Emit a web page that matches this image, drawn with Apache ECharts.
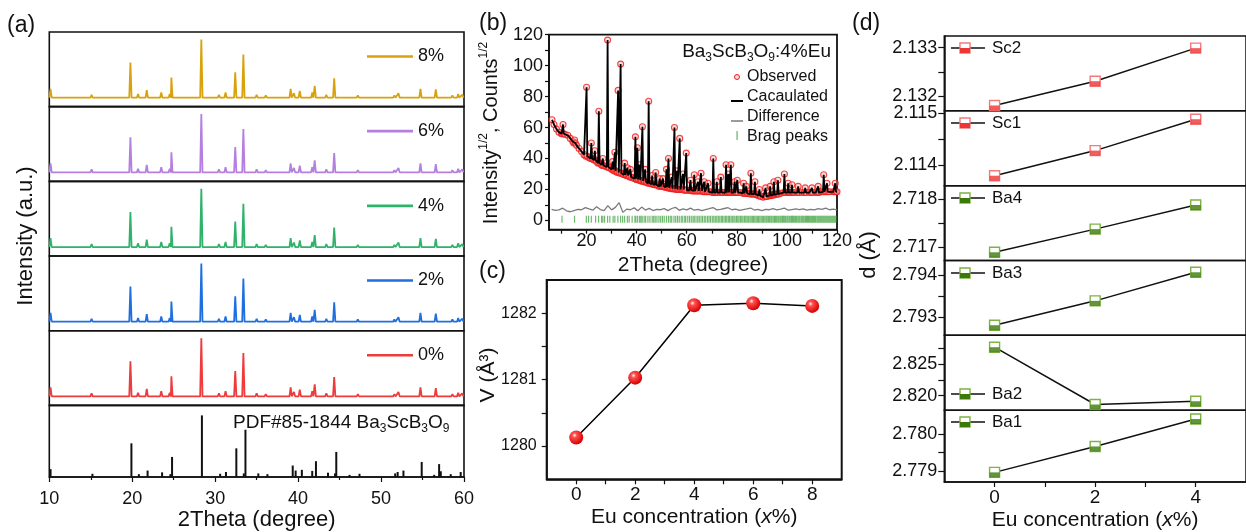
<!DOCTYPE html>
<html>
<head>
<meta charset="utf-8">
<script src="https://cdn.jsdelivr.net/npm/echarts@6/dist/echarts.min.js"></script>
<style>
html, body { margin: 0; padding: 0; background: #fff; }
#chart { width: 1246px; height: 532px; }
</style>
</head>
<body>
<div id="chart"></div>
<script>
const FONT = 'Liberation Sans, Arial, sans-serif'

// (a) XRD patterns, heights in % of one strip
const xrdLabels = ['8%', '6%', '4%', '2%', '0%']
const xrdColors = ['#d9a20d', '#b57fe0', '#2fb36b', '#1e6fe0', '#ee3b3b']
const xrdBaseline = 12
const samplePeaks = [
  [10.15, 24], [15.1, 16], [19.78, 59], [20.7, 17], [21.75, 22], [23.5, 19], [24.52, 17], [24.72, 39],
  [28.33, 90], [30.45, 16], [31.25, 19], [32.42, 46], [33.4, 70], [35.0, 16], [36.1, 15], [39.1, 24],
  [39.5, 18], [40.2, 21], [41.7, 19], [42.0, 28], [43.4, 16], [44.35, 38], [46.0, 14], [47.2, 15],
  [51.6, 15], [52.1, 18], [54.75, 24], [56.6, 23], [58.6, 15], [59.3, 17], [59.8, 16]
]
const pdfSticks = [
  [10.15, 11], [15.2, 4.5], [19.9, 47], [20.8, 4], [21.85, 9], [23.6, 6.5], [24.6, 4], [24.8, 28],
  [28.4, 86], [30.6, 4.5], [31.3, 7], [32.55, 40], [33.45, 5], [33.65, 66], [35.2, 5], [36.3, 4],
  [39.35, 16], [39.7, 9], [40.45, 10], [41.7, 8.5], [42.15, 22], [43.6, 6], [44.45, 5], [44.6, 35],
  [46.2, 3], [47.4, 4.5], [51.7, 5], [52.0, 7], [52.7, 9], [54.9, 21], [56.4, 3], [57.0, 18],
  [57.2, 8], [58.4, 4], [59.6, 7]
]

// (b) Rietveld refinement
const rvBackground = [
  [6.2, 65], [7, 62], [8, 59], [9, 57], [10, 56], [11.5, 55.5], [12.5, 55], [13.5, 53], [14.5, 51],
  [16, 48.5], [17, 46.5], [18, 44.5], [19, 42.5], [21, 40.5], [22.5, 39.5], [24, 38], [26, 36],
  [27.5, 35], [29, 34], [30, 33], [32, 31.5], [34.5, 30], [36, 29], [37, 28.5], [38.5, 27.5],
  [40, 26.5], [41.7, 25.5], [43, 25], [44, 24.5], [45.5, 24], [47, 23], [48.5, 22.5], [50, 22],
  [51.2, 21.5], [53.3, 21], [54.5, 20.5], [56.5, 20], [58, 20], [59, 19.5], [61, 19.5], [62.2, 19],
  [64, 19], [66.5, 19], [68, 18.5], [69.5, 18.5], [71.3, 18], [74.5, 18], [78.5, 18], [81.5, 18],
  [84.5, 17.5], [86.5, 17], [88, 16.5], [89.5, 15.5], [90.5, 15], [92, 15.5], [94, 16.5], [95.5, 17],
  [97.5, 17.5], [101, 18], [103, 18], [106, 18], [109, 18], [111.5, 18], [113.5, 18.5], [117, 18.5],
  [118.5, 18.5], [120, 18.5]
]
// [2theta, base, top]
const rvPeaks = [
  [10.6, 56, 62], [15.2, 50, 52], [20.0, 41.5, 86], [21.9, 40, 50], [23.3, 39, 45], [24.9, 37, 70.5],
  [26.5, 35.5, 40], [28.4, 34.5, 116.5], [30.4, 33, 38], [31.3, 32, 44], [32.6, 31, 84], [33.6, 30.5, 101],
  [35.2, 29.5, 37], [36.3, 29, 34], [37.5, 28, 33], [39.5, 27, 54], [40.3, 26.5, 47], [41.2, 26, 36],
  [42.3, 25.5, 60.5], [43.4, 25, 33], [44.8, 24, 77], [46.2, 23.5, 29], [47.6, 23, 31], [49.2, 22, 27],
  [50.5, 22, 27], [51.9, 21.5, 33], [52.7, 21, 40], [54.0, 20.5, 28], [55.1, 20.5, 60], [56.0, 20, 32],
  [57.2, 20, 53], [58.5, 20, 30], [59.8, 19.5, 43.5], [61.5, 19.5, 26], [63.0, 19, 29.5], [64.5, 19, 25],
  [65.7, 19, 30.5], [67.0, 18.5, 25], [68.5, 18.5, 24], [70.6, 18, 40], [72.0, 18, 25], [73.6, 18, 28],
  [75.7, 18, 36], [76.6, 18, 30], [77.6, 18, 36], [79.1, 18, 25], [80.2, 18, 26], [82.7, 17.5, 24],
  [83.8, 17.5, 22], [85.6, 17, 30.5], [87.2, 17, 25], [89.0, 16, 20], [91.5, 15.5, 21], [93.3, 16, 22],
  [94.8, 16.5, 25], [96.4, 17, 26], [99.0, 18, 30], [100.5, 18, 24], [102.0, 18, 23], [104.5, 18, 22],
  [107.3, 18, 21], [110.0, 18, 21], [112.5, 18, 22], [114.7, 18.5, 29.5], [116.0, 18.5, 24], [119.3, 18.5, 24]
]
const diffStart = 6
const diffStep = 1.5
const rvDiff = [
  7.2, 6.5, 6.8, 7.9, 6.2, 5.6, 6.4, 7.1, 6.9, 8.3, 7.4, 6.6, 8.9, 7.0, 6.3, 9.6, 6.8, 8.4, 11.5, 5.2,
  7.3, 6.9, 8.1, 6.2, 8.6, 6.7, 7.8, 6.4, 7.2, 6.9, 7.6, 6.3, 7.7, 8.5, 6.5, 7.4, 6.8, 7.9, 6.6, 7.2,
  6.3, 7.0, 7.6, 8.3, 6.8, 7.1, 7.7, 8.2, 6.9, 7.3, 6.5, 7.0, 7.4, 8.0, 6.7, 7.1, 6.4, 7.2, 6.9, 7.6,
  6.8, 7.3, 7.9, 6.6, 7.0, 7.4, 6.9, 7.5, 6.7, 7.2, 6.8, 7.6, 7.1, 8.0, 6.9, 7.3, 6.8
]
const braggPos = [
  10.2, 15.2, 19.9, 20.8, 21.9, 23.6, 24.8, 26.0, 26.5, 27.2, 28.4, 29.3, 30.6, 31.3, 32.5, 33.6, 34.4,
  35.2, 36.3, 37.0, 38.2, 39.3, 39.7, 40.4, 41.2, 41.7, 42.2, 43.0, 43.6, 44.5, 45.3, 46.2, 46.8, 47.4,
  48.1, 48.9, 49.6, 50.3, 51.0, 51.9, 52.7, 53.4, 54.0, 54.9, 55.6, 56.3, 57.0, 57.8, 58.4, 59.2, 59.6,
  60.4, 61.1, 61.8, 62.5, 63.0, 63.7, 64.4, 65.0, 65.7, 66.3, 67.0, 67.6, 68.3, 68.9, 69.5, 70.2, 70.8,
  71.4, 72.0, 72.6, 73.2, 73.8, 74.3, 74.9, 75.5, 76.0, 76.6, 77.1, 77.7, 78.2, 78.8, 79.3, 79.9, 80.4,
  80.9, 81.5, 82.0, 82.5, 83.1, 83.6, 84.1, 84.6, 85.2, 85.7, 86.2, 86.7, 87.2, 87.7, 88.2, 88.7, 89.2,
  89.7, 90.2, 90.7, 91.2, 91.7, 92.1, 92.6, 93.1, 93.6, 94.0, 94.5, 95.0, 95.4, 95.9, 96.4, 96.8, 97.3,
  97.7, 98.2, 98.6, 99.1, 99.5, 100.0, 100.4, 100.9, 101.3, 101.8, 102.2, 102.6, 103.1, 103.5, 103.9,
  104.4, 104.8, 105.2, 105.7, 106.1, 106.5, 106.9, 107.4, 107.8, 108.2, 108.6, 109.0, 109.5, 109.9,
  110.3, 110.7, 111.1, 111.5, 112.0, 112.4, 112.8, 113.2, 113.6, 114.0, 114.4, 114.8, 115.2, 115.6,
  116.0, 116.4, 116.8, 117.2, 117.6, 118.0, 118.4, 118.8, 119.2, 119.6
]

// (c) cell volume
const euConc = [0, 2, 4, 6, 8]
const cellVolume = [1280.13, 1281.03, 1282.12, 1282.15, 1282.11]

// (d) bond lengths
const bondConc = [0, 2, 4]
const bondNames = ['Sc2', 'Sc1', 'Ba4', 'Ba3', 'Ba2', 'Ba1']
const bondValues = [
  [2.13181, 2.13231, 2.13299],
  [2.11380, 2.11428, 2.11488],
  [2.71690, 2.71738, 2.71788],
  [2.79280, 2.79338, 2.79406],
  [2.82774, 2.81858, 2.81910],
  [2.77896, 2.77966, 2.78040]
]
const bondRanges = [
  [2.1317, 2.13324], [2.11361, 2.11504], [2.71673, 2.71828],
  [2.79256, 2.79434], [2.81768, 2.82964], [2.77870, 2.78064]
]
const bondTickLabels = [
  [2.132, 2.133], [2.114, 2.115], [2.717, 2.718], [2.793, 2.794], [2.820, 2.825], [2.779, 2.780]
]
const bondMinorTicks = [[2.1325], [2.1145], [2.7175], [2.7935], [2.8225, 2.8275], [2.7795]]

const chart = echarts.init(document.getElementById('chart'))

const axisLine = { show: true, onZero: false, lineStyle: { color: '#111', width: 1.5 } }
const tickStyle = { color: '#111', width: 1.2 }
const gridBox = { show: true, borderColor: '#111', borderWidth: 1.6, backgroundColor: 'transparent' }

const grid = []
const xAxis = []
const yAxis = []
const series = []
const legend = []
const graphic = []

// ---------- (a) ----------
const stripH = 74.67
for (let i = 0; i < 6; i++) {
  const last = i === 5
  grid.push({ left: 49.3, width: 414.7, top: 32 + i * stripH, height: stripH, ...gridBox })
  xAxis.push({
    gridIndex: grid.length - 1, type: 'value', min: 10, max: 60, interval: 10,
    show: last, axisLine,
    axisTick: { show: true, length: 5, lineStyle: tickStyle },
    minorTick: { show: true, splitNumber: 2, length: 3, lineStyle: tickStyle },
    axisLabel: { fontSize: 18, color: '#111', margin: 13, fontFamily: FONT },
    splitLine: { show: false },
    name: last ? '2Theta (degree)' : '', nameLocation: 'middle', nameGap: 32,
    nameTextStyle: { fontSize: 22, color: '#111', fontFamily: FONT }
  })
  yAxis.push({ gridIndex: grid.length - 1, type: 'value', min: 0, max: 100, show: false, splitLine: { show: false } })
  if (!last) {
    const pts = [[10, xrdBaseline]]
    samplePeaks.forEach(([p, h]) => { pts.push([p - 0.14, xrdBaseline], [p, h], [p + 0.14, xrdBaseline]) })
    pts.push([60, xrdBaseline])
    series.push({
      name: xrdLabels[i], type: 'line', xAxisIndex: i, yAxisIndex: i, data: pts,
      symbol: 'none', lineStyle: { color: xrdColors[i], width: 1.8 }, itemStyle: { color: xrdColors[i] }
    })
    legend.push({
      data: [{ name: xrdLabels[i], icon: 'rect' }], left: 367, top: 32 + i * stripH + 15.5, padding: 0,
      itemWidth: 46, itemHeight: 2.6, itemGap: 0, selectedMode: false,
      textStyle: { fontSize: 18, color: '#111', fontFamily: FONT }
    })
  } else {
    series.push({
      name: 'PDF', type: 'bar', xAxisIndex: i, yAxisIndex: i, data: pdfSticks,
      barWidth: 2, itemStyle: { color: '#111' }
    })
  }
}

// ---------- (b) ----------
const gB = grid.length
grid.push({ left: 549, width: 288, top: 34.7, height: 195, ...gridBox, borderWidth: 1.8 })
xAxis.push({
  gridIndex: gB, type: 'value', min: 5, max: 120, axisLine,
  axisTick: { show: true, length: 4, lineStyle: tickStyle, customValues: [10, 20, 30, 40, 50, 60, 70, 80, 90, 100, 110, 120] },
  axisLabel: { fontSize: 18, color: '#111', margin: 2, fontFamily: FONT, customValues: [20, 40, 60, 80, 100, 120] },
  splitLine: { show: false },
  name: '2Theta (degree)', nameLocation: 'middle', nameGap: 25,
  nameTextStyle: { fontSize: 21, color: '#111', fontFamily: FONT }
})
yAxis.push({
  gridIndex: gB, type: 'value', min: -6, max: 120, axisLine,
  axisTick: { show: true, length: 4, lineStyle: tickStyle, customValues: [0, 10, 20, 30, 40, 50, 60, 70, 80, 90, 100, 110, 120] },
  axisLabel: { fontSize: 18, color: '#111', margin: 6, fontFamily: FONT, customValues: [0, 20, 40, 60, 80, 100, 120] },
  splitLine: { show: false }
})
const calcCurve = rvBackground
  .concat(...rvPeaks.map(([p, b, t]) => [[p - 0.3, b], [p, t], [p + 0.3, b]]))
  .sort((a, b) => a[0] - b[0])
series.push({
  name: 'Observed', type: 'scatter', xAxisIndex: gB, yAxisIndex: gB, data: calcCurve, z: 2,
  symbol: 'circle', symbolSize: 6,
  itemStyle: { color: 'rgba(255,170,170,0.5)', borderColor: '#ee1c1c', borderWidth: 1.1 }
})
series.push({
  name: 'Cacaulated', type: 'line', xAxisIndex: gB, yAxisIndex: gB, data: calcCurve, z: 3,
  symbol: 'none', lineStyle: { color: '#000', width: 1.8 }
})
series.push({
  name: 'Difference', type: 'line', xAxisIndex: gB, yAxisIndex: gB, z: 3,
  data: rvDiff.map((v, i) => [diffStart + i * diffStep, v]),
  symbol: 'none', lineStyle: { color: '#7a7a7a', width: 1.3 }
})
series.push({
  name: 'Brag peaks', type: 'scatter', xAxisIndex: gB, yAxisIndex: gB, z: 3,
  data: braggPos.map(p => [p, 0.8]),
  symbol: 'rect', symbolSize: [1.2, 7], itemStyle: { color: '#3fa13f', opacity: 0.75 }
})

// ---------- (c) ----------
const gC = grid.length
grid.push({ left: 546.7, width: 295, top: 280, height: 199.3, ...gridBox, borderWidth: 2 })
xAxis.push({
  gridIndex: gC, type: 'value', min: -1, max: 9, axisLine,
  axisTick: { show: true, length: 5, lineStyle: tickStyle, customValues: [0, 1, 2, 3, 4, 5, 6, 7, 8] },
  axisLabel: { fontSize: 19, color: '#111', margin: 6, fontFamily: FONT, customValues: euConc },
  splitLine: { show: false },
  name: 'Eu concentration ({i|x}%)', nameLocation: 'middle', nameGap: 27,
  nameTextStyle: { fontSize: 21, color: '#111', fontFamily: FONT, rich: { i: { fontSize: 21, fontStyle: 'italic', fontFamily: FONT } } }
})
yAxis.push({
  gridIndex: gC, type: 'value', min: 1279.5, max: 1282.5, axisLine,
  axisTick: { show: true, length: 5, lineStyle: tickStyle, customValues: [1280, 1280.5, 1281, 1281.5, 1282] },
  axisLabel: {
    fontSize: 16, color: '#111', margin: 10, fontFamily: FONT, customValues: [1280, 1281, 1282],
    formatter: v => String(v)
  },
  splitLine: { show: false }
})
series.push({
  name: 'V', type: 'line', xAxisIndex: gC, yAxisIndex: gC,
  data: euConc.map((x, i) => [x, cellVolume[i]]),
  symbol: 'circle', symbolSize: 14,
  lineStyle: { color: '#000', width: 1.5 },
  itemStyle: {
    color: {
      type: 'radial', x: 0.38, y: 0.35, r: 0.65,
      colorStops: [{ offset: 0, color: '#ffffff' }, { offset: 0.25, color: '#ff5050' }, { offset: 1, color: '#d80000' }]
    }
  }
})

// ---------- (d) ----------
const dStrip = 74.83
const dRed = { border: '#f37b7b', fill: '#ee3535' }
const dGreen = { border: '#7cb342', fill: '#3b7a0a' }
const dLegendY = [48, 123, 198, 273, 394, 422]
for (let j = 0; j < 6; j++) {
  const last = j === 5
  const g = grid.length
  const col = j < 2 ? dRed : dGreen
  grid.push({ left: 944.3, width: 312, top: 36 + j * dStrip, height: dStrip, ...gridBox, borderWidth: 1.5 })
  xAxis.push({
    gridIndex: g, type: 'value', min: -1, max: 5, show: last, axisLine,
    axisTick: { show: true, length: 5, lineStyle: tickStyle, customValues: [0, 1, 2, 3, 4] },
    axisLabel: { fontSize: 19, color: '#111', margin: 6, fontFamily: FONT, customValues: bondConc },
    splitLine: { show: false },
    name: last ? 'Eu concentration ({i|x}%)' : '', nameLocation: 'middle', nameGap: 28,
    nameTextStyle: { fontSize: 21, color: '#111', fontFamily: FONT, rich: { i: { fontSize: 21, fontStyle: 'italic', fontFamily: FONT } } }
  })
  yAxis.push({
    gridIndex: g, type: 'value', min: bondRanges[j][0], max: bondRanges[j][1], axisLine,
    axisTick: { show: true, length: 6, lineStyle: tickStyle, customValues: bondTickLabels[j].concat(bondMinorTicks[j]) },
    axisLabel: {
      fontSize: 18, color: '#111', margin: 7, fontFamily: FONT, customValues: bondTickLabels[j],
      formatter: v => Number(v).toFixed(3)
    },
    splitLine: { show: false }
  })
  const pts = bondConc.map((x, k) => [x, bondValues[j][k]])
  series.push({
    name: bondNames[j], type: 'line', xAxisIndex: g, yAxisIndex: g, data: pts, z: 3,
    symbol: 'rect', symbolSize: 10,
    lineStyle: { color: '#111', width: 1.5 },
    itemStyle: { color: '#fff', borderColor: col.border, borderWidth: 1.4 }
  })
  series.push({
    name: bondNames[j] + ' fill', type: 'scatter', xAxisIndex: g, yAxisIndex: g, data: pts, z: 4,
    symbol: 'rect', symbolSize: [10, 5], symbolOffset: [0, 2.5],
    itemStyle: { color: col.fill }
  })
  // legend entry
  const ly = dLegendY[j]
  graphic.push(
    { type: 'line', shape: { x1: 951, y1: ly, x2: 985, y2: ly }, style: { stroke: '#111', lineWidth: 1.5 }, z: 10 },
    { type: 'rect', shape: { x: 960, y: ly - 5, width: 10, height: 10 }, style: { fill: '#fff', stroke: col.border, lineWidth: 1.4 }, z: 11 },
    { type: 'rect', shape: { x: 960, y: ly, width: 10, height: 5 }, style: { fill: col.fill }, z: 12 },
    { type: 'text', x: 992, y: ly, z: 12, style: { text: bondNames[j], fontSize: 17, fontFamily: FONT, fill: '#111', textAlign: 'left', textVerticalAlign: 'middle', align: 'left', verticalAlign: 'middle' } }
  )
}

// ---------- texts ----------
function txt(x, y, text, size, opts) {
  return Object.assign({
    type: 'text', x, y, z: 20,
    style: Object.assign({
      text, fontSize: size, fontFamily: FONT, fill: '#111',
      textAlign: 'left', textVerticalAlign: 'middle', align: 'left', verticalAlign: 'middle'
    }, (opts && opts.style) || {})
  }, (opts && opts.el) || {})
}
const subRich = {
  n: { fontSize: 19, lineHeight: 24, fontFamily: FONT },
  s: { fontSize: 12, lineHeight: 12, verticalAlign: 'bottom', fontFamily: FONT },
  p: { fontSize: 12, lineHeight: 12, verticalAlign: 'top', fontFamily: FONT }
}
graphic.push(
  txt(7, 26, '(a)', 23),
  txt(479, 24, '(b)', 23),
  txt(479, 272, '(c)', 23),
  txt(852, 24, '(d)', 23),
  txt(26, 236, 'Intensity (a.u.)', 22, { el: { rotation: Math.PI / 2 }, style: { textAlign: 'center', align: 'center' } }),
  txt(233, 423, '{n|PDF#85-1844 Ba}{s|3}{n|ScB}{s|3}{n|O}{s|9}', 19, { style: { rich: subRich } }),
  txt(831, 52, '{n|Ba}{s|3}{n|ScB}{s|3}{n|O}{s|9}{n|:4%Eu}', 19, { style: { rich: subRich, textAlign: 'right', align: 'right' } }),
  txt(491, 133, '{m|Intensity}{p|1/2}{m|, Counts}{p|1/2}', 20, {
    el: { rotation: Math.PI / 2 },
    style: { textAlign: 'center', align: 'center', rich: Object.assign({ m: { fontSize: 20, lineHeight: 26, fontFamily: FONT } }, subRich) }
  }),
  txt(488, 375, 'V (Å³)', 21, { el: { rotation: Math.PI / 2 }, style: { textAlign: 'center', align: 'center' } }),
  txt(869, 255, 'd (Å)', 22, { el: { rotation: Math.PI / 2 }, style: { textAlign: 'center', align: 'center' } }),
  // (b) legend
  { type: 'circle', shape: { cx: 737, cy: 77, r: 2.5 }, style: { fill: 'rgba(255,170,170,0.5)', stroke: '#ee1c1c', lineWidth: 1 }, z: 20 },
  txt(747, 76.7, 'Observed', 16),
  { type: 'line', shape: { x1: 731, y1: 101, x2: 743, y2: 101 }, style: { stroke: '#000', lineWidth: 2 }, z: 20 },
  txt(747, 96.7, 'Cacaulated', 16),
  { type: 'line', shape: { x1: 731, y1: 121, x2: 743, y2: 121 }, style: { stroke: '#7a7a7a', lineWidth: 1.5 }, z: 20 },
  txt(747, 117, 'Difference', 16),
  { type: 'rect', shape: { x: 736.4, y: 131, width: 1.4, height: 9 }, style: { fill: '#3fa13f', opacity: 0.7 }, z: 20 },
  txt(747, 137, 'Brag peaks', 16)
)

chart.setOption({
  animation: false,
  textStyle: { fontFamily: FONT, color: '#111' },
  grid, xAxis, yAxis, series, legend, graphic
})
</script>
</body>
</html>
